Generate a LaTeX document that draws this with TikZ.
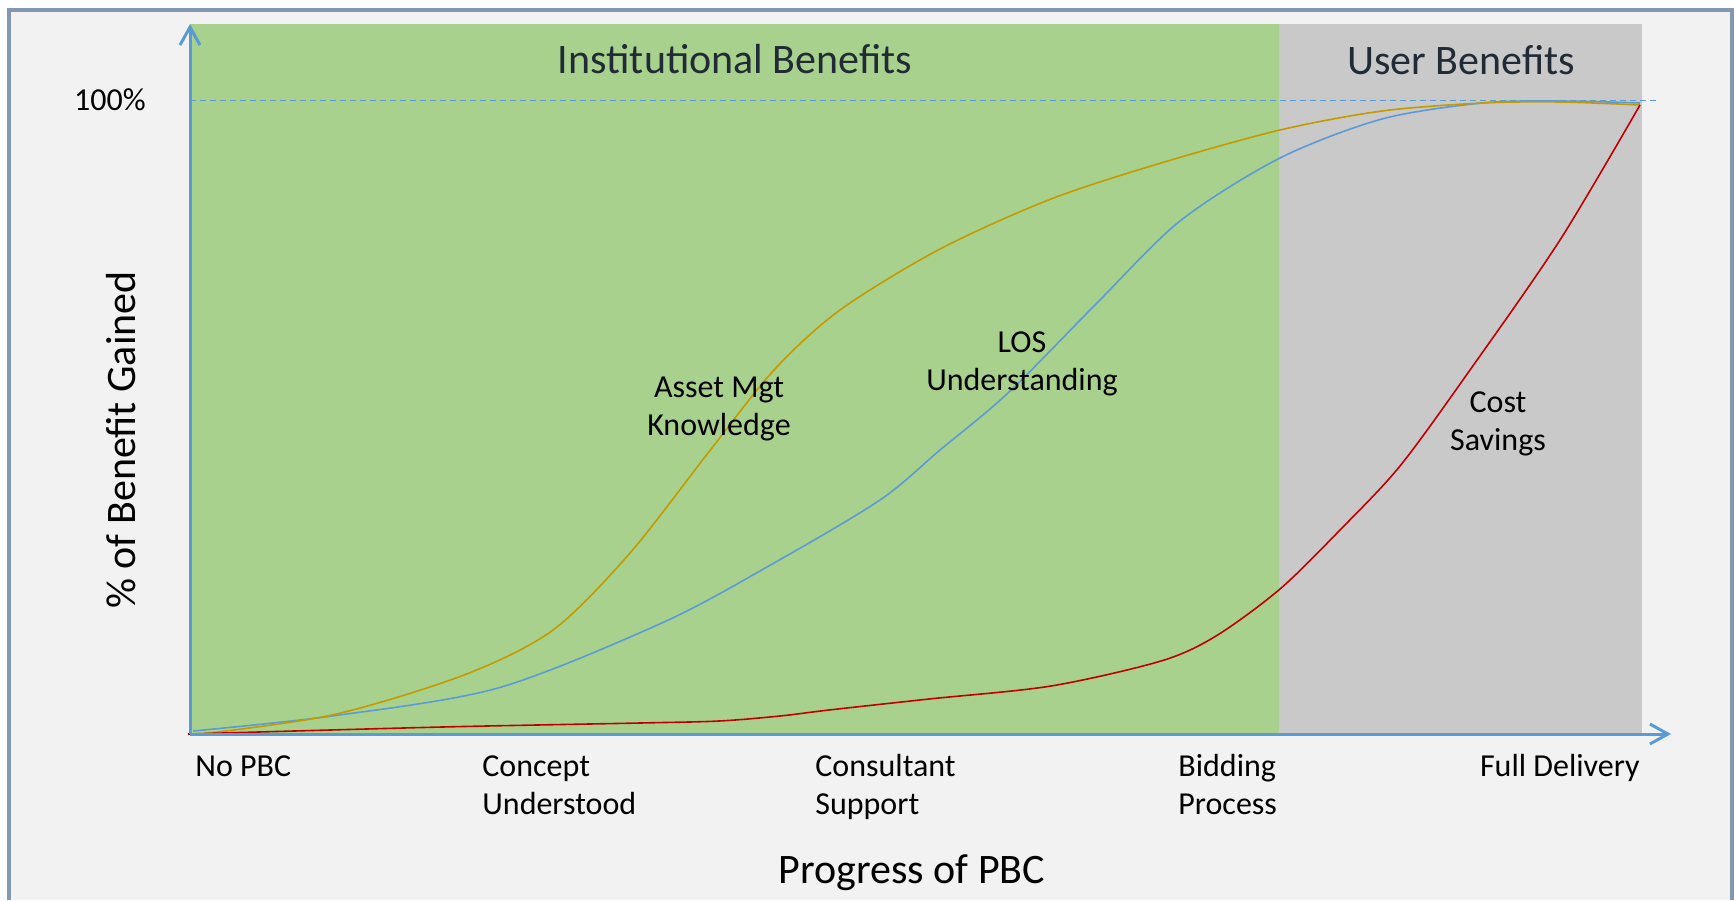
\documentclass[tikz,border=0pt]{standalone}
\usepackage{fontspec}
\setmainfont{Carlito}
\usetikzlibrary{arrows.meta,positioning}
\definecolor{framebg}{HTML}{F2F2F2}
\definecolor{frameline}{HTML}{8497B0}
\definecolor{instgreen}{HTML}{A9D18E}
\definecolor{usergrey}{HTML}{C9C9C9}
\definecolor{axisblue}{HTML}{5B9BD5}
\definecolor{assetgold}{HTML}{C49A00}
\definecolor{costred}{HTML}{C00000}
\definecolor{titletext}{HTML}{222A35}
\tikzset{
  axis/.style = {draw=axisblue, line width=1.5pt, -{Straight Barb[length=9pt,width=10pt]}},
  curve/.style = {line width=0.8pt, smooth, tension=0.5},
  bandtitle/.style = {font=\fontsize{21}{25}\selectfont, text=titletext, inner sep=0pt, anchor=base},
  axistitle/.style = {font=\fontsize{21}{25}\selectfont, inner sep=0pt, anchor=base},
  ticklabel/.style = {font=\fontsize{16}{19}\selectfont, inner sep=0pt, align=left, anchor=base west},
  curvelabel/.style = {font=\fontsize{16}{19}\selectfont, inner sep=0pt, align=center, anchor=base}
}
\begin{document}
\begin{tikzpicture}[x=0.5pt, y=-0.5pt]
\useasboundingbox (0,0) rectangle (1734,900);
% frame round the chart
\fill[framebg] (9,10) rectangle (1732,900);
\draw[frameline, line width=1.6pt] (9,900) -- (9,10) -- (1732,10) -- (1732,900);
% the two benefit bands
\fill[instgreen] (190,24) rectangle (1279,734);
\fill[usergrey] (1279,24) rectangle (1642,734);
% 100% level
\draw[axisblue, line width=0.5pt, dash pattern=on 3pt off 2pt] (190,100) -- (1657,100);
% curves (the base line of a two line label is its last line)
\draw[curve, draw=axisblue] plot coordinates {(193,731) (332,716) (498,688) (664,622) (774,563) (880,500) (940,450) (1008,393) (1096,304) (1180,221) (1280,158) (1382,119) (1482,103) (1560,101) (1640,103)};
\draw[curve, draw=assetgold] plot coordinates {(193,735) (332,715) (464,675) (553,630) (630,553) (708,453) (774,370) (840,310) (940,249) (1051,199) (1161,163) (1280,130) (1382,111) (1482,103) (1560,102) (1640,105)};
\draw[curve, draw=costred] plot coordinates {(188,734) (442,727) (640,723) (719,721) (780,716) (829,710) (929,699) (1051,686) (1161,661) (1216,636) (1280,589) (1340,530) (1400,466) (1470,370) (1560,240) (1640,105)};
% axes
\coordinate (origin) at (190,734);
\coordinate (ytop) at (190,24);
\coordinate (xend) at (1671,734);
\draw[axis] (origin) -- (ytop);
\draw[axis] (origin) -- (xend);
% band titles
\node[bandtitle] (inst) at (735,73) {Institutional Benefits};
\node[bandtitle] (user) at (1461,74) {User Benefits};
% axis titles and 100% mark
\node[font=\fontsize{16}{19}\selectfont, inner sep=0pt, anchor=base] (full) at (110,110) {100\%};
\node[axistitle, rotate=90] (ytitle) at (135,440) {\% of Benefit Gained};
\node[axistitle] (xtitle) at (912,883) {Progress of PBC};
% stages along the x axis
\node[ticklabel] (nopbc) at (195,776) {No PBC};
\node[ticklabel] (concept) at (482,814) {Concept\\Understood};
\node[ticklabel] (consult) at (815,814) {Consultant\\Support};
\node[ticklabel] (bidding) at (1178,814) {Bidding\\Process};
\node[ticklabel, anchor=base east] (delivery) at (1640,776) {Full Delivery};
% curve names
\node[curvelabel] (asset) at (719,435) {Asset Mgt\\Knowledge};
\node[curvelabel] (los) at (1022,390) {LOS\\Understanding};
\node[curvelabel] (cost) at (1498,450) {Cost\\Savings};
\end{tikzpicture}
\end{document}
